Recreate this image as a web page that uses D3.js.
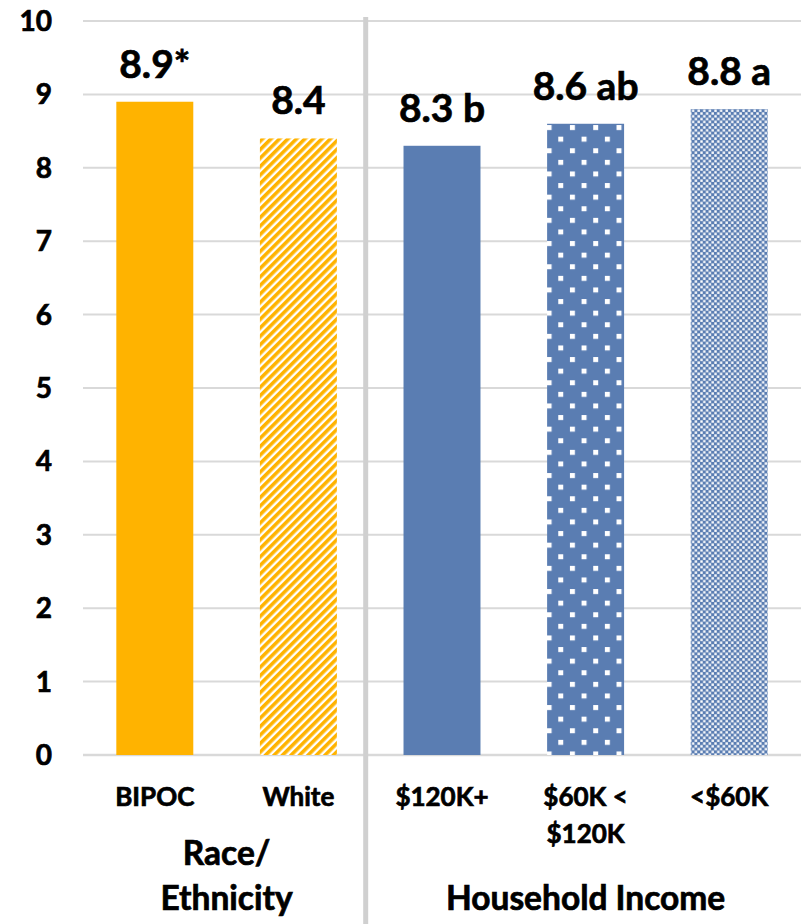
<!DOCTYPE html>
<html>
<head>
<meta charset="utf-8">
<script src="https://cdn.jsdelivr.net/npm/d3@7"></script>
<style>
  html, body { margin: 0; padding: 0; background: #fff; }
  svg { display: block; }
  text { font-family: Lato, "Noto Sans", sans-serif; font-weight: 700; fill: #000; stroke: #000; stroke-width: 0.7px; }
</style>
</head>
<body>
<svg id="chart" width="801" height="924"></svg>
<script>
// ---- data ----
const categories = ["BIPOC", "White", "$120K+", "$60K < $120K", "<$60K"];
const values = [8.9, 8.4, 8.3, 8.6, 8.8];
const valueLabels = ["8.9*", "8.4", "8.3 b", "8.6 ab", "8.8 a"];
const categoryLines = [["BIPOC"], ["White"], ["$120K+"], ["$60K <", "$120K"], ["<$60K"]];
const groupLabels = [["Race/", "Ethnicity"], ["Household Income"]];
const groupSizes = [2, 3];
const yTicks = [0, 1, 2, 3, 4, 5, 6, 7, 8, 9, 10];
const fills = ["solid-orange", "stripe-orange", "solid-blue", "dots-blue", "check-blue"];

// ---- layout ----
const W = 801, H = 924;
const plotLeft = 83, plotRight = 801, plotTop = 21, plotBottom = 755;
const ORANGE = "#FFB300", BLUE = "#5A7DB2", GRID = "#d9d9d9";

const svg = d3.select("#chart");
const x = d3.scaleBand().domain(categories).range([plotLeft, plotRight])
  .paddingInner(0.464).paddingOuter(0.232);
const y = d3.scaleLinear().domain([0, 10]).range([plotBottom, plotTop]);
const bw = x.bandwidth();

// ---- patterns ----
const defs = svg.append("defs");
// diagonal stripes (up-right)
const st = defs.append("pattern").attr("id", "stripe-orange")
  .attr("patternUnits", "userSpaceOnUse").attr("width", 6).attr("height", 6)
  .attr("patternTransform", "rotate(45)");
st.append("rect").attr("width", 6).attr("height", 6).attr("fill", "#fff");
st.append("rect").attr("width", 3.6).attr("height", 6).attr("fill", ORANGE);

// white squares on blue, staggered
const i60 = 3;
const dp = defs.append("pattern").attr("id", "dots-blue")
  .attr("patternUnits", "userSpaceOnUse").attr("width", 23.3).attr("height", 23.2)
  .attr("x", x(categories[i60]) - 0.5).attr("y", y(values[i60]) + 1.3);
dp.append("rect").attr("width", 23.3).attr("height", 23.2).attr("fill", BLUE);
dp.append("rect").attr("x", 0).attr("y", 0).attr("width", 5).attr("height", 5).attr("fill", "#fff");
dp.append("rect").attr("x", 11.65).attr("y", 11.6).attr("width", 5).attr("height", 5).attr("fill", "#fff");

// small checker
const cp = defs.append("pattern").attr("id", "check-blue")
  .attr("patternUnits", "userSpaceOnUse").attr("width", 5.6).attr("height", 5.6);
cp.append("rect").attr("width", 5.6).attr("height", 5.6).attr("fill", BLUE);
cp.append("rect").attr("x", 0.3).attr("y", 0.3).attr("width", 2.4).attr("height", 2.4).attr("fill", "#fff");
cp.append("rect").attr("x", 3.1).attr("y", 3.1).attr("width", 2.4).attr("height", 2.4).attr("fill", "#fff");

function fillFor(i) {
  const f = fills[i];
  if (f === "solid-orange") return ORANGE;
  if (f === "solid-blue") return BLUE;
  return "url(#" + f + ")";
}

// ---- gridlines ----
svg.append("g").selectAll("line").data(yTicks).join("line")
  .attr("x1", plotLeft).attr("x2", plotRight)
  .attr("y1", d => y(d)).attr("y2", d => y(d))
  .attr("stroke", GRID).attr("stroke-width", d => d === 0 ? 2.5 : 2);

// ---- y tick labels ----
svg.append("g").selectAll("text").data(yTicks).join("text")
  .attr("x", 52).attr("y", d => y(d)).attr("dy", "0.36em")
  .attr("text-anchor", "end").attr("font-size", 28)
  .text(d => d);

// ---- group separator ----
const sepX = (x(categories[1]) + bw + x(categories[2])) / 2 - 4.5;
svg.append("line").attr("x1", sepX).attr("x2", sepX)
  .attr("y1", 17).attr("y2", H).attr("stroke", "#d0d0d0").attr("stroke-width", 5);

// ---- bars ----
svg.append("g").selectAll("rect").data(categories).join("rect")
  .attr("x", d => x(d)).attr("width", bw)
  .attr("y", (d, i) => y(values[i])).attr("height", (d, i) => y(0) - y(values[i]))
  .attr("fill", (d, i) => fillFor(i));

// ---- value labels ----
svg.append("g").selectAll("text").data(categories).join("text")
  .attr("x", d => x(d) + bw / 2).attr("y", (d, i) => y(values[i]) - 24)
  .attr("text-anchor", "middle").attr("font-size", 39)
  .text((d, i) => valueLabels[i]);

// ---- category labels ----
const catG = svg.append("g");
categories.forEach((c, i) => {
  const t = catG.append("text").attr("x", x(c) + bw / 2).attr("y", 806)
    .attr("text-anchor", "middle").attr("font-size", 26);
  categoryLines[i].forEach((ln, j) => {
    t.append("tspan").attr("x", x(c) + bw / 2).attr("dy", j === 0 ? 0 : 37).text(ln);
  });
});

// ---- group labels ----
let start = 0;
groupLabels.forEach((lines, g) => {
  const first = categories[start], last = categories[start + groupSizes[g] - 1];
  const cx = (x(first) + x(last) + bw) / 2;
  const baseY = 910 - (lines.length - 1) * 45;
  const t = svg.append("text").attr("x", cx).attr("y", baseY)
    .attr("text-anchor", "middle").attr("font-size", 33.5);
  lines.forEach((ln, j) => {
    t.append("tspan").attr("x", cx).attr("dy", j === 0 ? 0 : 45).text(ln);
  });
  start += groupSizes[g];
});
</script>
</body>
</html>
